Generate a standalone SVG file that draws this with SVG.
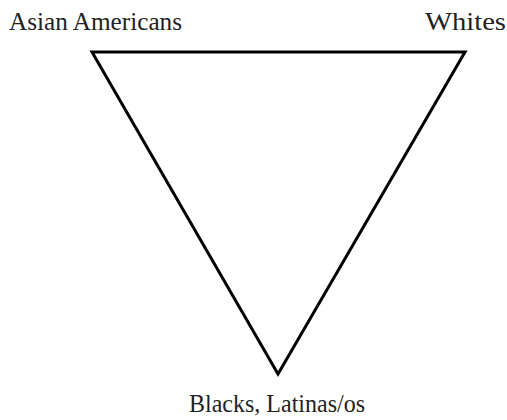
<svg xmlns="http://www.w3.org/2000/svg" width="507" height="420" viewBox="0 0 507 420">
<style>
.lbl{font-family:"Liberation Serif","Times New Roman",serif;font-size:25px;fill:#222;}
.edge{fill:none;stroke:#000;stroke-width:3;stroke-linejoin:miter;}
</style>
<rect width="507" height="420" fill="#fff"/>
<g id="connectors">
<polygon class="edge" points="92,52 465,52 278,374"/>
</g>
<g id="asian"><text class="lbl" x="9" y="30" textLength="173" lengthAdjust="spacingAndGlyphs">Asian Americans</text></g>
<g id="whites"><text class="lbl" x="425" y="30" textLength="81" lengthAdjust="spacingAndGlyphs">Whites</text></g>
<g id="blacks"><text class="lbl" x="189" y="412" textLength="176" lengthAdjust="spacingAndGlyphs">Blacks, Latinas/os</text></g>
</svg>
